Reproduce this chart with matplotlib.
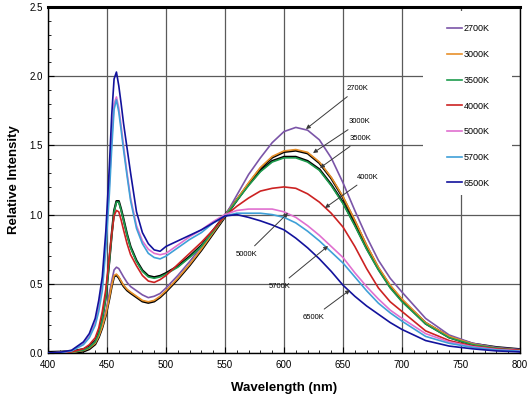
import numpy as np
import matplotlib
matplotlib.use("Agg")
from matplotlib import pyplot as plt
from matplotlib.patches import Rectangle
from matplotlib.ticker import MultipleLocator
import matplotlib.transforms as mtransforms

plt.rcParams['font.family'] = ['Liberation Sans', 'DejaVu Sans']

# wavelength grid (nm)
wl = [400, 410, 420, 430, 435, 440, 443, 446, 449, 452, 454, 456, 458, 460, 462, 464, 467, 470,
      475, 480, 485, 490, 495, 500, 510, 520, 530, 540, 550, 560, 570, 580, 590, 600,
      610, 620, 630, 640, 650, 660, 670, 680, 690, 700, 720, 740, 760, 780, 800]

k2700 = [0.0, 0.002, 0.006, 0.02, 0.04, 0.08, 0.13, 0.2, 0.3, 0.43, 0.52, 0.6, 0.62, 0.61, 0.58,
         0.55, 0.51, 0.48, 0.45, 0.42, 0.40, 0.41, 0.43, 0.47, 0.56, 0.66, 0.77, 0.88, 0.99, 1.14,
         1.29, 1.41, 1.52, 1.60, 1.63, 1.61, 1.54, 1.41, 1.23, 1.03, 0.84, 0.67, 0.54, 0.44,
         0.25, 0.13, 0.07, 0.04, 0.025]
k3000 = [0.0, 0.002, 0.005, 0.018, 0.035, 0.07, 0.12, 0.19, 0.28, 0.4, 0.49, 0.56, 0.57, 0.55, 0.52,
         0.49, 0.46, 0.44, 0.41, 0.38, 0.37, 0.38, 0.41, 0.45, 0.54, 0.64, 0.75, 0.87, 0.99, 1.11,
         1.23, 1.34, 1.42, 1.46, 1.47, 1.45, 1.38, 1.27, 1.13, 0.96, 0.78, 0.62, 0.49, 0.39,
         0.22, 0.12, 0.065, 0.035, 0.02]
k3500 = [0.0, 0.002, 0.006, 0.02, 0.04, 0.08, 0.14, 0.24, 0.4, 0.66, 0.85, 1.02, 1.09, 1.09, 1.03,
         0.96, 0.85, 0.76, 0.66, 0.59, 0.55, 0.54, 0.55, 0.57, 0.62, 0.69, 0.77, 0.88, 0.99, 1.10,
         1.21, 1.31, 1.38, 1.41, 1.41, 1.38, 1.32, 1.21, 1.08, 0.92, 0.75, 0.60, 0.47, 0.37,
         0.21, 0.11, 0.06, 0.035, 0.02]
k4000 = [0.0, 0.002, 0.008, 0.03, 0.06, 0.11, 0.18, 0.3, 0.46, 0.7, 0.86, 0.99, 1.03, 1.02, 0.96,
         0.89, 0.79, 0.71, 0.63, 0.56, 0.52, 0.51, 0.53, 0.56, 0.64, 0.72, 0.80, 0.89, 0.99, 1.06,
         1.12, 1.17, 1.19, 1.20, 1.19, 1.15, 1.09, 1.01, 0.91, 0.77, 0.61, 0.47, 0.37, 0.30,
         0.16, 0.09, 0.05, 0.03, 0.02]
k5000 = [0.0, 0.004, 0.017, 0.07, 0.12, 0.22, 0.33, 0.5, 0.8, 1.22, 1.54, 1.80, 1.85, 1.77, 1.64,
         1.5, 1.3, 1.12, 0.92, 0.81, 0.75, 0.72, 0.71, 0.72, 0.78, 0.84, 0.89, 0.95, 1.0, 1.03,
         1.04, 1.04, 1.04, 1.02, 0.98, 0.92, 0.85, 0.77, 0.69, 0.58, 0.48, 0.39, 0.31, 0.25,
         0.14, 0.08, 0.045, 0.025, 0.015]
k5700 = [0.0, 0.003, 0.015, 0.06, 0.11, 0.2, 0.3, 0.45, 0.75, 1.15, 1.48, 1.76, 1.83, 1.74, 1.61,
         1.47, 1.28, 1.1, 0.9, 0.79, 0.72, 0.69, 0.68, 0.70, 0.76, 0.82, 0.87, 0.94, 0.99, 1.01,
         1.01, 1.01, 1.0, 0.98, 0.94, 0.88, 0.81, 0.73, 0.65, 0.55, 0.45, 0.36, 0.29, 0.23,
         0.12, 0.07, 0.04, 0.022, 0.013]
k6500 = [0.0, 0.005, 0.02, 0.08, 0.14, 0.25, 0.38, 0.55, 0.88, 1.35, 1.72, 1.98, 2.03, 1.93, 1.80,
         1.66, 1.48, 1.3, 1.02, 0.87, 0.79, 0.745, 0.735, 0.77, 0.81, 0.85, 0.89, 0.94, 0.99, 1.0,
         0.98, 0.955, 0.925, 0.89, 0.83, 0.76, 0.68, 0.59, 0.49, 0.41, 0.34, 0.28, 0.22, 0.17,
         0.09, 0.05, 0.03, 0.015, 0.008]

labels = ['2700K', '3000K', '3500K', '4000K', '5000K', '5700K', '6500K']
series = [k2700, k3000, k3500, k4000, k5000, k5700, k6500]
colors = ['#7b55a8', '#e8902a', '#1e9c4e', '#cc2222', '#e070d0', '#3fa0d8', '#12129c']

fig = plt.figure(figsize=(5.28, 3.98), dpi=100)
ax = fig.add_axes([48/528, 1-353/398, 472/528, 346/398])

ax.set_xlim(400, 800)
ax.set_ylim(0, 2.5)
ax.xaxis.set_major_locator(MultipleLocator(50))
ax.xaxis.set_minor_locator(MultipleLocator(10))
ax.yaxis.set_major_locator(MultipleLocator(0.5))
ax.yaxis.set_minor_locator(MultipleLocator(0.1))
ax.yaxis.set_major_formatter(matplotlib.ticker.FormatStrFormatter('%.1f'))
ax.tick_params(which='both', direction='in', labelsize=7, colors='black')
ax.tick_params(which='major', length=4)
ax.tick_params(which='minor', length=2)
ax.tick_params(axis='x', pad=5)
ax.grid(True, which='major', color='#5a5a5a', lw=0.9)
ax.set_axisbelow(True)
for s in ax.spines.values():
    s.set_linewidth(1.0)
ax.spines['top'].set_linewidth(2.2)

# black companion traces for 3000K / 3500K
down = mtransforms.offset_copy(ax.transData, fig=fig, x=0, y=-1.0, units='dots')
up = mtransforms.offset_copy(ax.transData, fig=fig, x=0, y=1.0, units='dots')

handles = []
for lab, ys, c in zip(labels, series, colors):
    if lab == '3000K':
        ax.plot(wl, ys, color='black', lw=1.6, transform=down, zorder=3)
    if lab == '3500K':
        ax.plot(wl, ys, color='black', lw=1.6, transform=up, zorder=3)
    h, = ax.plot(wl, ys, color=c, lw=1.2, label=lab, zorder=4)
    handles.append(h)

# white box behind legend
ax.add_patch(Rectangle((0.794, 0.457), 0.19, 0.53, transform=ax.transAxes,
                       facecolor='white', edgecolor='none', zorder=2.5))
leg = ax.legend(handles=handles, loc='upper left', bbox_to_anchor=(0.838, 0.96),
                frameon=False, fontsize=6.5, labelspacing=1.85, handlelength=1.7,
                handletextpad=0.1, borderaxespad=0)
leg.set_zorder(6)

# curve annotations (text position, arrow tip)
notes = [
    ('2700K', (653, 1.91), (618.6, 1.618), 'left'),
    ('3000K', (655, 1.67), (624.6, 1.445), 'left'),
    ('3500K', (656, 1.55), (630.5, 1.337), 'left'),
    ('4000K', (662, 1.27), (634.7, 1.048), 'left'),
    ('5000K', (568, 0.715), (603.4, 1.012), 'center'),
    ('5700K', (596, 0.484), (637.3, 0.773), 'center'),
    ('6500K', (625, 0.26), (655.9, 0.455), 'center'),
]
for txt, xy_text, xy_tip, ha in notes:
    ax.annotate(txt, xy=xy_tip, xytext=xy_text, fontsize=5.5, ha=ha, va='center',
                zorder=7,
                arrowprops=dict(arrowstyle='-|>', color='#3a3a3a', lw=0.7,
                                mutation_scale=6, shrinkA=2, shrinkB=0))

ax.set_xlabel('Wavelength (nm)', fontsize=9.5, fontweight='bold', labelpad=9)
ax.set_ylabel('Relative Intensity', fontsize=9.5, fontweight='bold', labelpad=7)

fig.savefig('out.png', dpi=100)
